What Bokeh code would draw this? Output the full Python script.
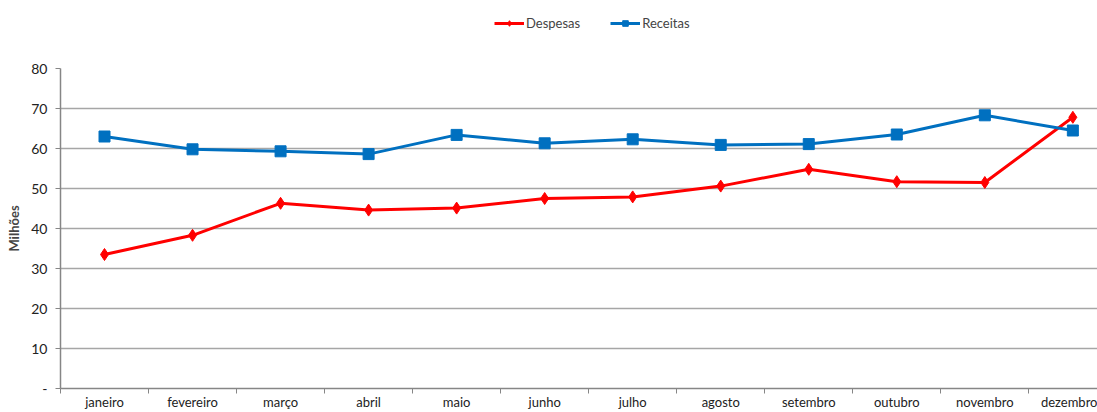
from bokeh.plotting import figure
from bokeh.layouts import column
from bokeh.models import FixedTicker, Legend, LegendItem, Range1d
from bokeh.embed import file_html
from bokeh.resources import INLINE

months = ["janeiro", "fevereiro", "março", "abril", "maio", "junho", "julho",
          "agosto", "setembro", "outubro", "novembro", "dezembro"]
despesas = [33.5, 38.3, 46.3, 44.6, 45.1, 47.5, 47.9, 50.6, 54.8, 51.7, 51.5, 67.8]
receitas = [63.0, 59.8, 59.3, 58.6, 63.4, 61.3, 62.3, 60.9, 61.1, 63.5, 68.3, 64.5]
y_ticks = [0, 10, 20, 30, 40, 50, 60, 70, 80]

xs = list(range(1, len(months) + 1))
FONT = "Lato"
RED = "#ff0000"
BLUE = "#0070c0"

# ---------------- main chart ----------------
p = figure(width=1097, height=372, output_backend="svg", toolbar_location=None,
           x_range=Range1d(0.5, 12.28), y_range=Range1d(0, 80),
           min_border_left=60, min_border_right=0, min_border_top=28, min_border_bottom=24)
p.outline_line_color = None
p.background_fill_color = "white"
p.border_fill_color = "white"

p.line(xs, despesas, line_color=RED, line_width=3)
p.scatter(xs, despesas, marker="diamond", size=12, fill_color=RED, line_color=RED)
p.line(xs, receitas, line_color=BLUE, line_width=3)
p.scatter(xs, receitas, marker="square", size=11, fill_color=BLUE, line_color=BLUE)

# x axis
p.xaxis.ticker = FixedTicker(ticks=xs, minor_ticks=[x + 0.5 for x in range(0, 13)])
p.xaxis.major_label_overrides = {x: m for x, m in zip(xs, months)}
p.xaxis.major_tick_out = 0
p.xaxis.major_tick_in = 0
p.xaxis.minor_tick_out = 5
p.xaxis.minor_tick_in = 0
p.xaxis.minor_tick_line_color = "#868686"
p.xaxis.axis_line_color = "#868686"
p.xaxis.axis_line_width = 1.5
p.xaxis.major_label_standoff = 0
p.xaxis.major_label_text_line_height = 0.8
p.xaxis.major_label_text_font = FONT
p.xaxis.major_label_text_font_size = "13px"
p.xaxis.major_label_text_color = "#222222"
p.xgrid.grid_line_color = None

# y axis
p.yaxis.ticker = FixedTicker(ticks=y_ticks)
p.yaxis.major_label_overrides = {0: "-"}
p.yaxis.major_tick_out = 5
p.yaxis.major_tick_in = 0
p.yaxis.minor_tick_line_color = None
p.yaxis.major_tick_line_color = "#868686"
p.yaxis.axis_line_color = "#868686"
p.yaxis.axis_line_width = 1.5
p.yaxis.major_label_standoff = 8
p.yaxis.major_label_text_font = FONT
p.yaxis.major_label_text_font_size = "14px"
p.yaxis.major_label_text_color = "#222222"
p.yaxis.axis_label = "Milhões"
p.yaxis.axis_label_text_font = FONT
p.yaxis.axis_label_text_font_style = "bold"
p.yaxis.axis_label_text_font_size = "13px"
p.yaxis.axis_label_standoff = 6
p.ygrid.grid_line_color = "#a6a6a6"
p.ygrid.grid_line_width = 1.5

# ---------------- legend strip ----------------
lg = figure(width=1097, height=40, output_backend="svg", toolbar_location=None,
            x_range=Range1d(0, 1), y_range=Range1d(0, 1),
            min_border_left=0, min_border_right=0, min_border_top=0, min_border_bottom=0)
lg.axis.visible = False
lg.grid.grid_line_color = None
lg.outline_line_color = None
# legend-only renderers: their single point lies outside the visible range
ld_line = lg.line([-5, -4], [-5, -5], line_color=RED, line_width=3)
ld_pts = lg.scatter([-5], [-5], marker="diamond", size=12, fill_color=RED, line_color=RED)
lr_line = lg.line([-5, -4], [-5, -5], line_color=BLUE, line_width=3)
lr_pts = lg.scatter([-5], [-5], marker="square", size=11, fill_color=BLUE, line_color=BLUE)

legend = Legend(items=[LegendItem(label="Despesas", renderers=[ld_line, ld_pts]),
                       LegendItem(label="Receitas", renderers=[lr_line, lr_pts])],
                orientation="horizontal", location=(434, 9),
                label_text_font=FONT, label_text_font_size="13px",
                glyph_width=30, glyph_height=14, spacing=30, padding=4, margin=0,
                label_standoff=2, border_line_color=None, background_fill_alpha=0)
lg.add_layout(legend, "center")

page = column(lg, p, spacing=0)
open("out.html", "w").write(file_html(page, INLINE))
